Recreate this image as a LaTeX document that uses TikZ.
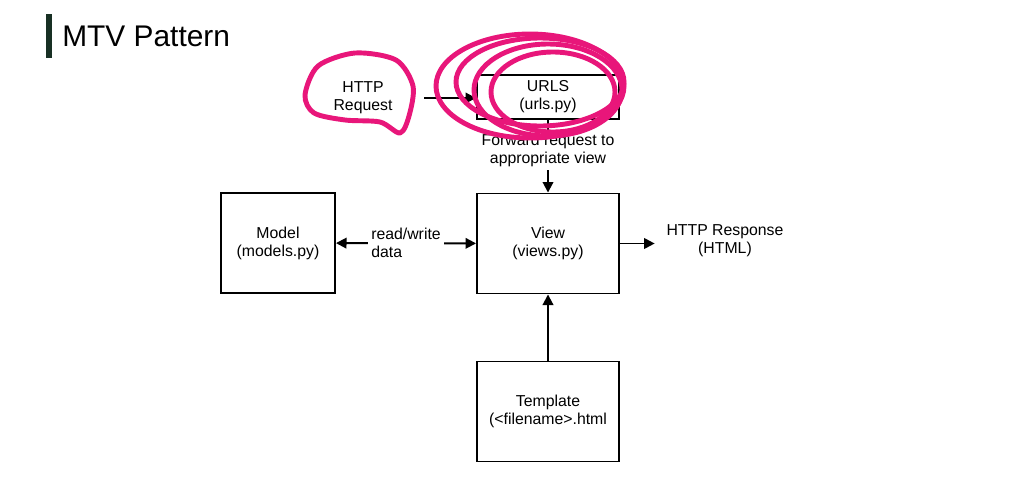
\documentclass[tikz,border=0pt]{standalone}
\usepackage{fontspec}
\setmainfont{Liberation Sans}
\usetikzlibrary{arrows.meta,positioning}
\definecolor{barGreen}{RGB}{24,48,36}
\definecolor{penPink}{RGB}{232,22,122}

\begin{document}
\begin{tikzpicture}[x=0.02cm,y=-0.02cm,>={Triangle[length=6pt,width=6pt]},
  font=\fontsize{9}{10.2}\selectfont,
  box/.style={draw,line width=1.1pt,minimum width=2.84cm,minimum height=2cm,align=center,inner sep=2pt},
  txt/.style={align=center,inner sep=0pt},
  ln/.style={->,line width=1.1pt},
  pen/.style={penPink,line width=2.8pt,line cap=round,line join=round}]
\useasboundingbox (0,0) rectangle (1026,494);
% title
\fill[barGreen] (46,14) rectangle (52,58);
\node[anchor=base west,font=\fontsize{17}{20}\selectfont,inner sep=0pt] (title) at (62,46) {MTV Pattern};
% boxes
\node[box,minimum height=0.88cm] (urls) at (548,97) {URLS\\(urls.py)};
\node[box,minimum width=2.28cm] (model) at (278,243) {Model\\(models.py)};
\node[box] (view) at (548,243.5) {View\\(views.py)};
\node[box] (tmpl) at (548,411.5) {Template\\(<filename>.html};
\node[txt,minimum width=2.44cm] (req) at (363,98) {HTTP\\Request};
\node[txt,minimum width=2.8cm] (resp) at (725,241) {HTTP Response\\(HTML)};
% connectors
\draw[ln] (req.east) -- (urls.west |- req.east);
\draw[ln] (urls) -- node[txt,fill=white,inner sep=2pt,pos=0.42] {Forward request to\\appropriate view} (view);
\draw[<->,line width=1.1pt] (model) -- node[fill=white,align=left,inner sep=2pt] {read/write\\data} (view);
\draw[ln] (view.east) -- (view.east -| resp.west);
\draw[ln] (tmpl) -- (view);
% pen marks
\draw[pen] plot[smooth cycle] coordinates {(305,95) (318,66) (355,53) (396,60) (413,86) (409,116) (400,133) (380,122) (345,120) (314,113)};
\draw[pen] (530,86) ellipse [x radius=94,y radius=52];
\draw[pen] (540,82) ellipse [x radius=84,y radius=44];
\draw[pen] (548,90) ellipse [x radius=74,y radius=46];
\draw[pen] (553,92) ellipse [x radius=62,y radius=40];
\end{tikzpicture}
\end{document}
